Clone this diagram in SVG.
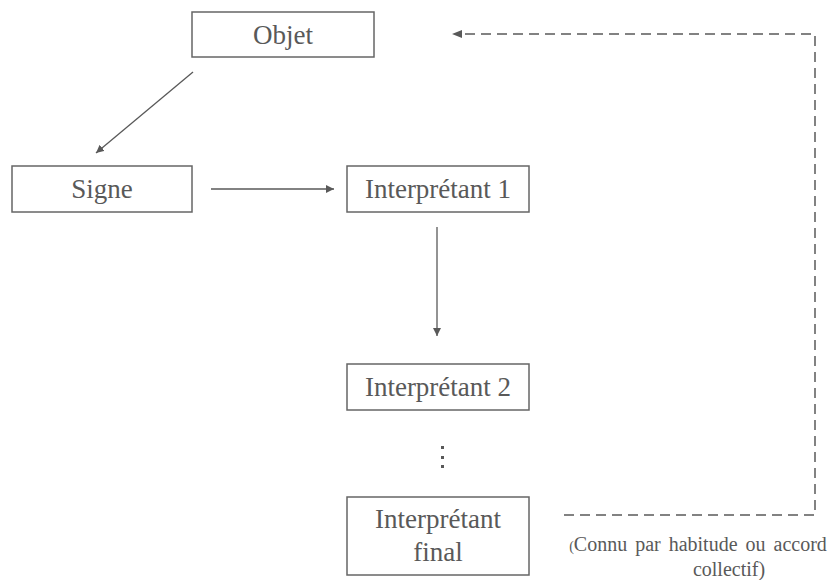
<svg xmlns="http://www.w3.org/2000/svg" width="831" height="580" viewBox="0 0 831 580">
<defs>
<marker id="ah" viewBox="0 0 10 10" refX="10" refY="5" markerWidth="8" markerHeight="8" markerUnits="userSpaceOnUse" orient="auto">
<path d="M0,0 L10,5 L0,10 z" fill="#595959"/>
</marker>
</defs>
<style>
.box{fill:#fff;stroke:#666;stroke-width:1.5}
.t{font-size:27px;fill:#595959;text-anchor:middle}
.s{font-size:20px;fill:#595959;text-anchor:middle}
.c{fill:none;stroke:#595959;stroke-width:1.3}
.d{fill:none;stroke:#595959;stroke-width:1.5;stroke-dasharray:10 6}
</style>
<rect width="831" height="580" fill="#fff"/>
<g id="connectors">
<line class="c" x1="193" y1="72" x2="96" y2="153" marker-end="url(#ah)"/>
<line class="c" x1="211" y1="189" x2="334" y2="189" marker-end="url(#ah)"/>
<line class="c" x1="437" y1="227" x2="437" y2="336" marker-end="url(#ah)"/>
<polyline class="d" points="564,515 815,515 815,34 462,34"/>
<path d="M452,34 L462,30 L462,38 z" fill="#595959"/>
</g>
<g font-family="Liberation Serif, DejaVu Serif, serif">
<g id="objet">
<rect class="box" x="192" y="12" width="182" height="45"/>
<text class="t" x="283" y="44">Objet</text>
</g>
<g id="signe">
<rect class="box" x="12" y="166" width="180" height="46"/>
<text class="t" x="102" y="198">Signe</text>
</g>
<g id="interp1">
<rect class="box" x="347" y="166" width="182" height="46"/>
<text class="t" x="438" y="198">Interprétant 1</text>
</g>
<g id="interp2">
<rect class="box" x="347" y="364" width="182" height="46"/>
<text class="t" x="438" y="396">Interprétant 2</text>
</g>
<g id="dots">
<rect x="441" y="446" width="3" height="3" fill="#595959"/>
<rect x="441" y="456" width="3" height="3" fill="#595959"/>
<rect x="441" y="465" width="3" height="3" fill="#595959"/>
</g>
<g id="interpfinal">
<rect class="box" x="347" y="497" width="182" height="78"/>
<text class="t" x="438" y="528">Interprétant</text>
<text class="t" x="438" y="561">final</text>
</g>
<g id="note">
<text class="s" x="698" y="551" word-spacing="3"><tspan font-size="14">(</tspan>Connu par habitude ou accord</text>
<text class="s" x="729" y="576">collectif)</text>
</g>
</g>
</svg>
